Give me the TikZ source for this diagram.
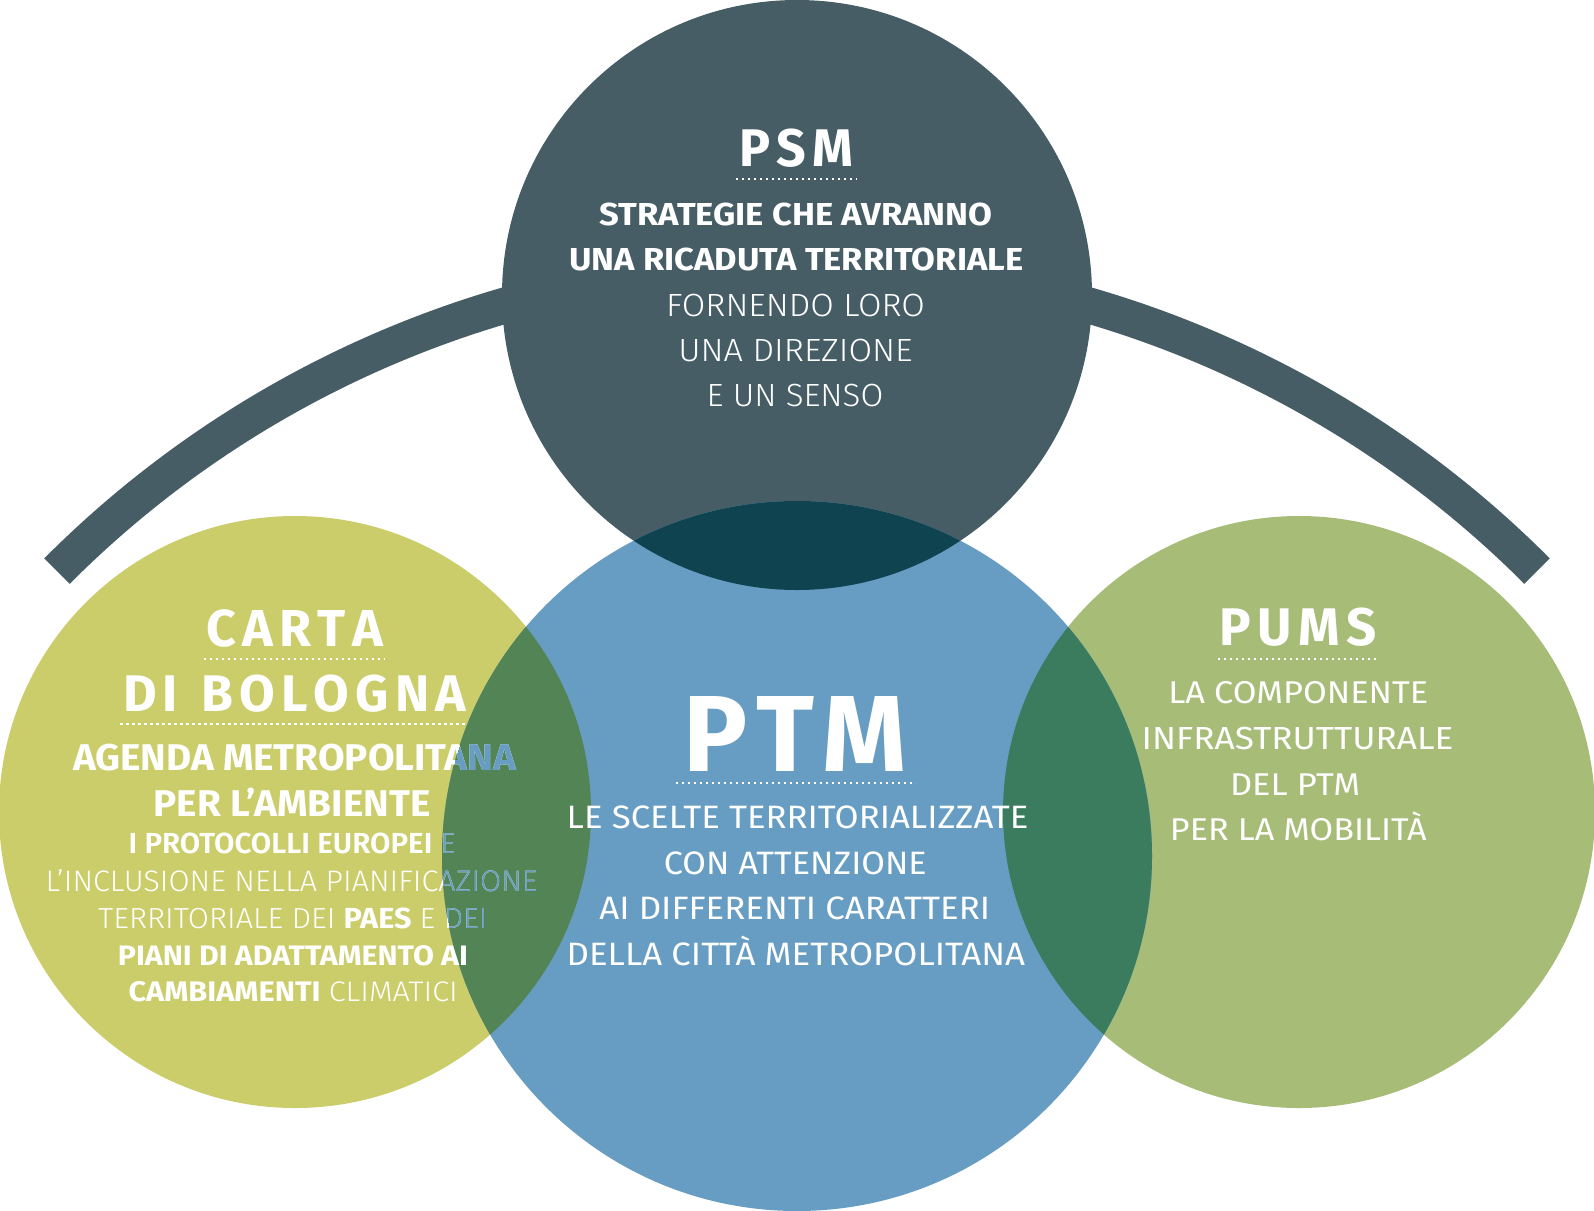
\documentclass[tikz,border=0pt]{standalone}
\usepackage{fontspec}
\usepackage{graphicx}
\setmainfont{Fira Sans}
\IfFontExistsTF{Fira Sans Light}{\newfontfamily\fslight{Fira Sans Light}}{\newcommand\fslight{\normalfont}}
\IfFontExistsTF{Fira Sans SemiBold}{\newfontfamily\fssemi{Fira Sans SemiBold}}{\newcommand\fssemi{\bfseries}}
\definecolor{psmc}{HTML}{465D66}
\definecolor{lensc}{HTML}{0F4350}
\definecolor{ptmc}{HTML}{679DC2}
\definecolor{cartac}{HTML}{CBCD6A}
\definecolor{leftov}{HTML}{538455}
\definecolor{pumsc}{HTML}{A6BC77}
\definecolor{rightov}{HTML}{3C7C5E}
\newcommand\fitline[3]{\resizebox{#1pt}{#2pt}{\vrule width0pt height\fontcharht\font`H depth0pt\relax\smash{#3}}}
\newcommand\trk{\kern0.12em}
\newcommand\trkb{\kern0.08em}
\newcommand\cartatext[2]{%
  \node[txt,text=#1] (#2a) at (294.6,646) {\bfseries\fitline{176.5}{36}{C\trk A\trk R\trk T\trk A}};
  \node[txt,text=#1] (#2b) at (294.6,711.7) {\bfseries\fitline{342.8}{35.7}{D\trk I\hspace{0.45em}B\trk O\trk L\trk O\trk G\trk N\trk A}};
  \node[txt,text=#1] (#2c) at (294.6,770) {\bfseries\fitline{442.8}{25.8}{AGENDA METROPOLITANA}};
  \node[txt,text=#1] (#2d) at (292,816) {\bfseries\fitline{276.8}{25.8}{PER L’AMBIENTE}};
  \node[txt,text=#1] (#2e) at (292,853.3) {\fitline{326.8}{20}{{\fssemi I PROTOCOLLI EUROPEI} {\fslight E}}};
  \node[txt,text=#1] (#2f) at (291.6,891.7) {\fslight\fitline{491.8}{20.3}{L’INCLUSIONE NELLA PIANIFICAZIONE}};
  \node[txt,text=#1] (#2g) at (292.9,928.3) {\fitline{389.3}{20}{{\fslight TERRITORIALE DEI} {\bfseries PAES} {\fslight E DEI}}};
}
\begin{document}
\begin{tikzpicture}[x=1pt,y=-1pt,
  disk/.style={circle,inner sep=0pt,outer sep=0pt,draw=none},
  txt/.style={anchor=base,inner sep=0pt,outer sep=0pt,text=white,font=\fontsize{20}{24}\selectfont},
  arcband/.style={draw=psmc,line width=36pt},
  dotline/.style={draw=white,line width=2.2pt,dash pattern=on 2.2pt off 3.8pt}]
\fill[white] (0,0) rectangle (1594,1210);
\useasboundingbox (0,0) rectangle (1594,1210);
% arc behind PSM
\coordinate (arcc) at (797,1308.6);
\draw[arcband] ([shift={(224.9:1044.8)}]arcc) arc[start angle=224.9,end angle=315.1,radius=1044.8];
% circles
\node[disk,fill=psmc,minimum size=590pt] (psm) at (797,295) {};
\node[disk,fill=cartac,minimum size=592pt] (carta) at (295,812) {};
\node[disk,fill=pumsc,minimum size=592pt] (pums) at (1299,812) {};
\node[disk,fill=ptmc,minimum size=710pt] (ptm) at (797,856) {};
% overlaps
\begin{scope}
  \clip (ptm.center) circle[radius=355];
  \fill[lensc] (psm.center) circle[radius=295];
  \fill[leftov] (carta.center) circle[radius=296];
  \fill[rightov] (pums.center) circle[radius=296];
\end{scope}
% PSM text
\node[txt] (psmt) at (796.3,166.7) {\bfseries\fitline{114}{36.7}{P\trk S\trk M}};
\node[txt] (psm1) at (796,225) {\bfseries\fitline{393.4}{22}{STRATEGIE CHE AVRANNO}};
\node[txt] (psm2) at (796.3,270) {\bfseries\fitline{454}{22}{UNA RICADUTA TERRITORIALE}};
\node[txt] (psm3) at (795.5,316.7) {\fslight\fitline{259}{22}{FORNENDO LORO}};
\node[txt] (psm4) at (795.5,361.7) {\fslight\fitline{234.3}{22}{UNA DIREZIONE}};
\node[txt] (psm5) at (795,406.7) {\fslight\fitline{176.7}{22}{E UN SENSO}};
% CARTA text
\cartatext{white}{cw}
\begin{scope}
  \clip (ptm.center) circle[radius=355];
  \cartatext{ptmc}{cb}
\end{scope}
\node[txt] (cwh) at (292.9,965) {\bfseries\fitline{350}{19.5}{PIANI DI ADATTAMENTO AI}};
\node[txt] (cwi) at (293.2,1001.7) {\fitline{329.3}{19.5}{{\bfseries CAMBIAMENTI} {\fslight CLIMATICI}}};
% PTM text
\node[txt] (ptmt) at (795,771.7) {\bfseries\fitline{223.4}{75}{P\trkb T\trkb M}};
\node[txt] (ptm1) at (797.5,828.3) {\fitline{461.6}{22.3}{LE SCELTE TERRITORIALIZZATE}};
\node[txt] (ptm2) at (795.3,874) {\fitline{262.7}{22.3}{CON ATTENZIONE}};
\node[txt] (ptm3) at (794.7,919.3) {\fitline{390.7}{22.3}{AI DIFFERENTI CARATTERI}};
\node[txt] (ptm4) at (795.8,965) {\fitline{458.3}{22.3}{DELLA CITTÀ METROPOLITANA}};
% PUMS text
\node[txt] (pumst) at (1298.3,645) {\bfseries\fitline{156.7}{36.7}{P\trk U\trk M\trk S}};
\node[txt] (pums1) at (1298.3,703.3) {\fitline{260}{21.7}{LA COMPONENTE}};
\node[txt] (pums2) at (1297.5,749.3) {\fitline{311.7}{22}{INFRASTRUTTURALE}};
\node[txt] (pums3) at (1295,795) {\fitline{130}{21.7}{DEL PTM}};
\node[txt] (pums4) at (1298.3,840) {\fitline{256.7}{21.7}{PER LA MOBILITÀ}};
% dotted underlines
\coordinate (psmdl) at (736,179.3);   \coordinate (psmdr) at (857,179.3);
\coordinate (cadl) at (203.6,658.7);  \coordinate (cadr) at (385,658.7);
\coordinate (bodl) at (120.4,724.3);  \coordinate (bodr) at (467.5,724.3);
\coordinate (ptmdl) at (676,783.3);   \coordinate (ptmdr) at (916,783.3);
\coordinate (pudl) at (1217.7,659);   \coordinate (pudr) at (1378.5,659);
\draw[dotline] (psmdl) -- (psmdr);
\draw[dotline] (cadl) -- (cadr);
\draw[dotline] (bodl) -- (bodr);
\draw[dotline] (ptmdl) -- (ptmdr);
\draw[dotline] (pudl) -- (pudr);
\end{tikzpicture}
\end{document}
